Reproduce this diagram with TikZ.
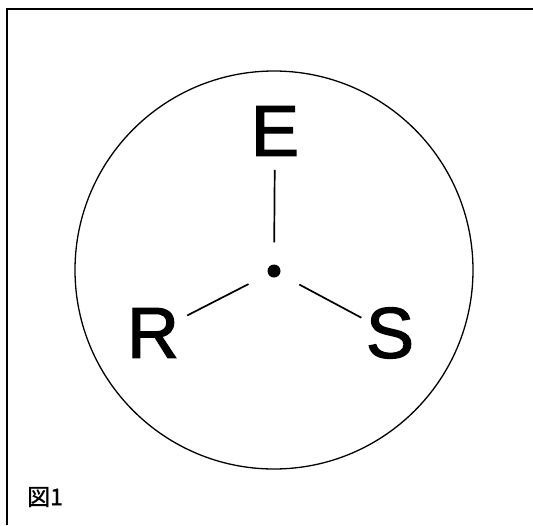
\documentclass[tikz,border=0pt]{standalone}
\usepackage{fontspec}
\setmainfont{Liberation Sans}
\newfontfamily\letterfont[FakeBold=1.8]{Liberation Sans}
\newfontfamily\jpfont[FakeBold=1.2]{Noto Sans CJK JP}
\begin{document}
\begin{tikzpicture}[x=1pt,y=-1pt,
  letter/.style={inner sep=0pt, font=\letterfont\fontsize{72}{72}\selectfont},
  spoke/.style={line width=1.7pt, shorten <=22pt}]
  \useasboundingbox (0,0) rectangle (533,525);
  % frame: top and left edges only
  \draw[line width=2.4pt] (7,525) -- (7,9) -- (533,9);
  \draw[line width=1.3pt] (274,270) circle (199);
  \node[circle, fill, inner sep=0pt, minimum size=13pt] (dot) at (274,271) {};
  \node[letter] (E) at (275,131) {E};
  \node[letter] (R) at (153,333) {R};
  \node[letter] (S) at (390,333) {S};
  \draw[spoke, shorten >=14pt] (dot) -- (E);
  \draw[spoke, shorten >=9pt] (dot) -- (R);
  \draw[spoke, shorten >=5pt]  (dot) -- (S);
  \node[anchor=west, inner sep=0pt, font=\jpfont\fontsize{23}{23}\selectfont] (caption) at (27,497) {図1};
\end{tikzpicture}
\end{document}
